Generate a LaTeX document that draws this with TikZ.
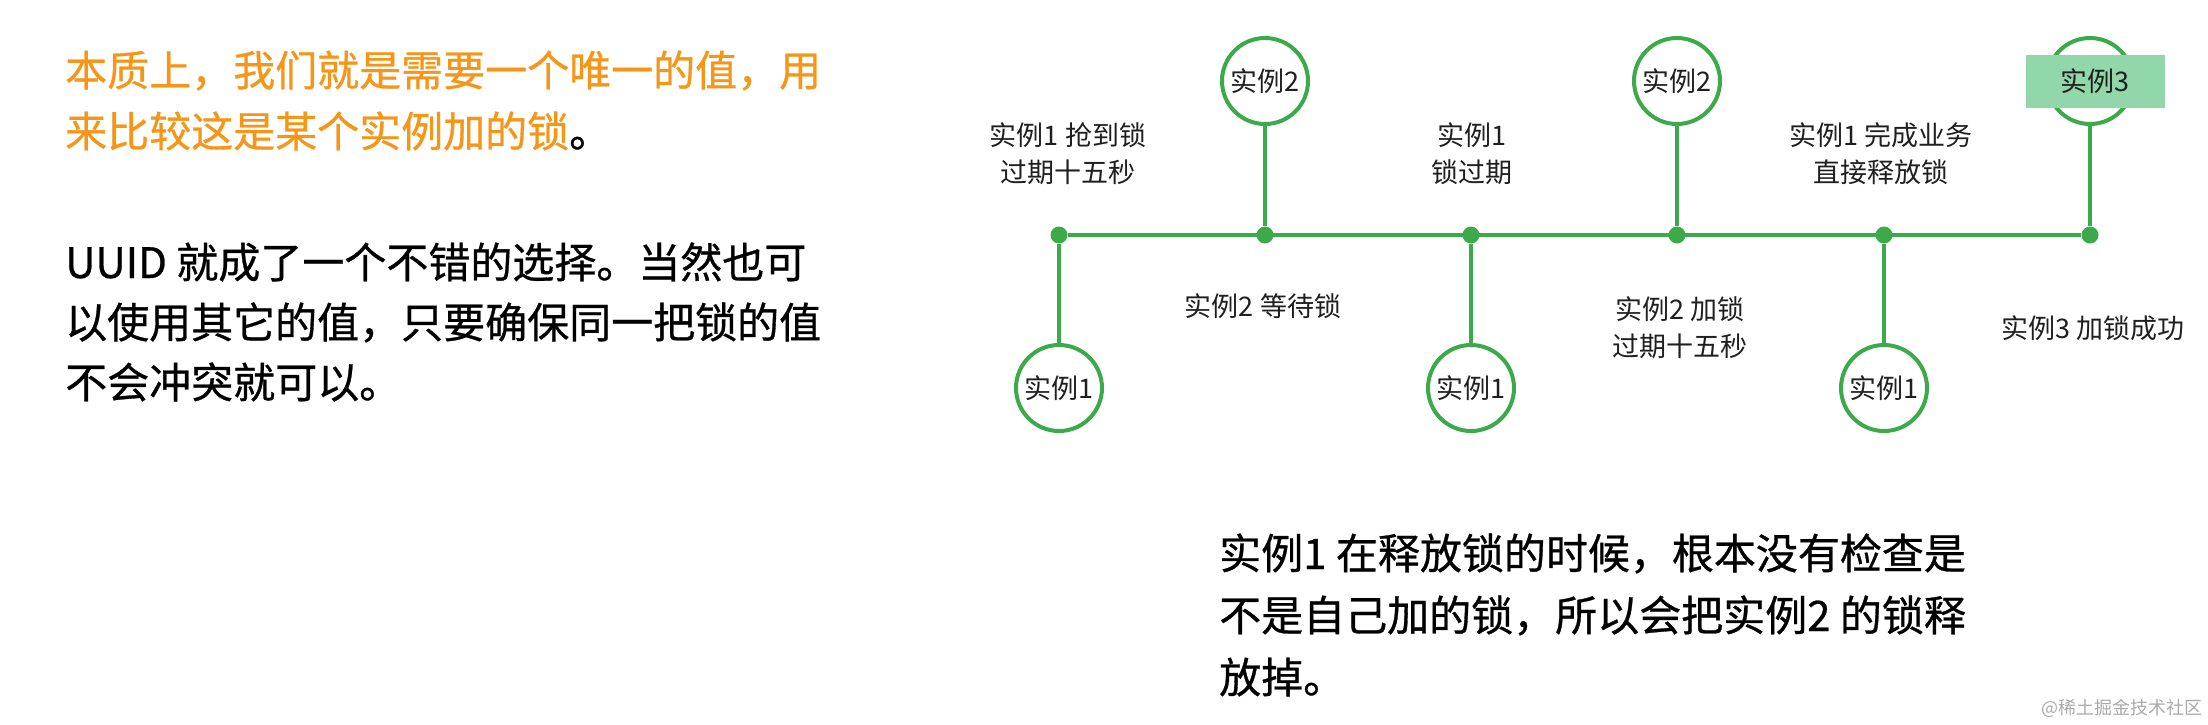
\documentclass[tikz,border=0pt]{standalone}
\usepackage{fontspec}
\setmainfont{Noto Sans CJK SC}
\newfontfamily\parafont[FakeBold=0.7]{Noto Sans CJK SC}
\definecolor{tlgreen}{RGB}{60,170,75}
\definecolor{tlfill}{RGB}{145,215,170}
\definecolor{tlorange}{RGB}{245,150,25}
\definecolor{wmgray}{RGB}{170,170,170}
\begin{document}
\begin{tikzpicture}[x=1pt,y=-1pt,
  para/.style={anchor=base west, inner sep=0pt, font=\parafont\fontsize{42}{60}\selectfont},
  lbl/.style={align=center, inner sep=0pt, font=\fontsize{27}{37}\selectfont, text=black!88},
  inst/.style={circle, draw=tlgreen, line width=4pt, fill=white, minimum size=86pt, inner sep=0pt, font=\fontsize{27}{37}\selectfont, text=black!88},
  tldot/.style={circle, fill=tlgreen, minimum size=17pt, inner sep=0pt},
  conn/.style={draw=tlgreen, line width=4.5pt},
  hilite/.style={rectangle, fill=tlfill, minimum width=139pt, minimum height=53pt, inner sep=0pt, font=\fontsize{27}{37}\selectfont, text=black!88}
]
\useasboundingbox (0,0) rectangle (2208,724);

% left paragraphs
\node[para, text=tlorange] (o1) at (65,86) {本质上，我们就是需要一个唯一的值，用};
\node[para, text=tlorange] (o2) at (65,147) {来比较这是某个实例加的锁{\color{black}。}};
\node[para] (u1) at (65,278) {UUID 就成了一个不错的选择。当然也可};
\node[para] (u2) at (65,338) {以使用其它的值，只要确保同一把锁的值};
\node[para] (u3) at (65,398) {不会冲突就可以。};

% timeline dots
\node[tldot] (d1) at (1059,235) {};
\node[tldot] (d2) at (1265,235) {};
\node[tldot] (d3) at (1471,235) {};
\node[tldot] (d4) at (1677,235) {};
\node[tldot] (d5) at (1884,235) {};
\node[tldot] (d6) at (2090,235) {};

% instance circles
\node[inst] (t2) at (1265,81) {实例2};
\node[inst] (t4) at (1677,81) {实例2};
\node[inst] (t6) at (2090,81) {};
\node[inst] (b1) at (1059,388) {实例1};
\node[inst] (b3) at (1471,388) {实例1};
\node[inst] (b5) at (1884,388) {实例1};
\node[hilite] (r3) at (2095,81) {实例3};

% connectors
\draw[conn] (d1) -- (d6);
\draw[conn] (d1) -- (b1);
\draw[conn] (d2) -- (t2);
\draw[conn] (d3) -- (b3);
\draw[conn] (d4) -- (t4);
\draw[conn] (d5) -- (b5);
\draw[conn] (d6) -- (t6);

% event labels
\node[lbl] (l1) at (1068,154) {实例1 抢到锁\\过期十五秒};
\node[lbl] (l2) at (1472,154) {实例1\\锁过期};
\node[lbl] (l3) at (1881,154) {实例1 完成业务\\直接释放锁};
\node[lbl] (l4) at (1263,306) {实例2 等待锁};
\node[lbl] (l5) at (1680,328) {实例2 加锁\\过期十五秒};
\node[lbl] (l6) at (2093,328) {实例3 加锁成功};

% bottom paragraph
\node[para] (n1) at (1219,569) {实例1 在释放锁的时候，根本没有检查是};
\node[para] (n2) at (1219,631) {不是自己加的锁，所以会把实例2 的锁释};
\node[para] (n3) at (1219,693) {放掉。};

% watermark
\node[inner sep=0pt, text=wmgray, font=\fontsize{18}{20}\selectfont] (wm) at (2122,708) {@稀土掘金技术社区};
\end{tikzpicture}
\end{document}
